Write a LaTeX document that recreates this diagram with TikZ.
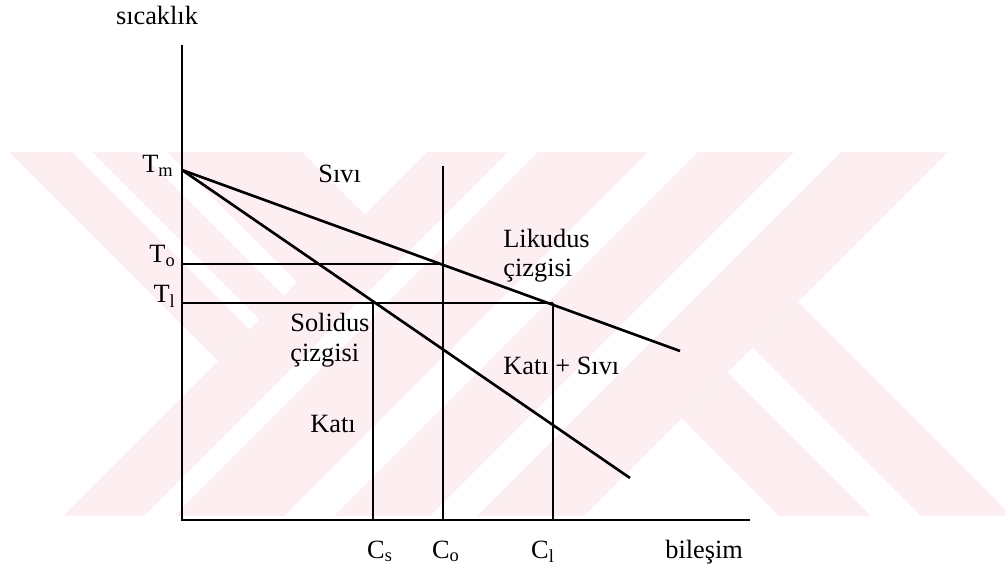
\documentclass[tikz,border=0pt]{standalone}
\usepackage{fontspec}
\setmainfont{Liberation Serif}
\usepackage{xcolor}
\definecolor{filigran}{RGB}{253,238,241}

\begin{document}
\begin{tikzpicture}[x=0.02cm, y=-0.02cm,
    eksen/.style={black, line width=0.85pt},
    egri/.style={black, line width=1.5pt},
    yatay/.style={black, line width=0.8pt},
    etiket/.style={font=\fontsize{15}{18}\selectfont, inner sep=0pt, anchor=base west},
    bant/.style={fill=filigran, draw=none}
  ]
  \useasboundingbox (0,0) rectangle (1005,564);

  % filigran
  \begin{scope}
    \clip (0,153) rectangle (1005,515);
    \fill[bant] (-500,-357) -- (218,361) -- (249.5,329.5) -- (-500,-420) -- cycle;
    \fill[bant] (-500,-440) -- (259.5,319.5) -- (283.5,295.5) -- (-500,-488) -- cycle;
    \fill[bant] (-500,-515) -- (297,282) -- (364.5,214.5) -- (-500,-650) -- cycle;
    \foreach \a/\b in {579/660, 690/800, 850/946, 993/1100}
      \fill[bant] (\a-100,100) -- (\b-100,100) -- (\b-600,600) -- (\a-600,600) -- cycle;
    \fill[bant] (727.5,372.5) -- (1055,700) -- (963,700) -- (681.5,418.5) -- cycle;
    \fill[bant] (798,302) -- (1196,700) -- (1105,700) -- (752.5,347.5) -- cycle;
  \end{scope}

  \coordinate (O)      at (182,520);
  \coordinate (ytop)   at (182,45);
  \coordinate (xend)   at (750,520);
  \coordinate (Tm)     at (182,170);
  \coordinate (To)     at (182,264);
  \coordinate (Tl)     at (182,303);
  \coordinate (liqend) at (680,351);
  \coordinate (solend) at (630,478);
  \coordinate (Cotop)  at (443,166);
  \coordinate (Cs)     at (373,520);
  \coordinate (Co)     at (443,520);
  \coordinate (Cl)     at (553,520);
  \coordinate (liqo)   at (443,264);
  \coordinate (sols)   at (373,303);
  \coordinate (liql)   at (553,303);

  \draw[eksen] (ytop) -- (O) -- (xend);
  \draw[egri] (Tm) -- (liqend);
  \draw[egri] (Tm) -- (solend);
  \draw[yatay] (To) -- (liqo);
  \draw[yatay] (Tl) -- (liql);
  \draw[eksen] (Cotop) -- (Co);
  \draw[eksen] (sols) -- (Cs);
  \draw[eksen] (liql) -- (Cl);

  \node[etiket, anchor=base] (sicaklik) at (157,25) {sıcaklık};
  \node[etiket, anchor=base east] (lTm) at (174,173) {T\textsubscript{m}};
  \node[etiket, anchor=base east] (lTo) at (176,263) {T\textsubscript{o}};
  \node[etiket, anchor=base east] (lTl) at (176,303) {T\textsubscript{l}};
  \node[etiket] (sivi) at (318,183) {Sıvı};
  \node[etiket] (lik1) at (503,248) {Likudus};
  \node[etiket] (lik2) at (503,277) {çizgisi};
  \node[etiket] (sol1) at (290,332) {Solidus};
  \node[etiket] (sol2) at (290,362) {çizgisi};
  \node[etiket] (katisivi) at (503,375) {Katı + Sıvı};
  \node[etiket] (kati) at (310,433) {Katı};
  \node[etiket, anchor=base] (lCs) at (380,558) {C\textsubscript{s}};
  \node[etiket, anchor=base] (lCo) at (446,558) {C\textsubscript{o}};
  \node[etiket, anchor=base] (lCl) at (543,558) {C\textsubscript{l}};
  \node[etiket] (bilesim) at (665,558) {bileşim};

\end{tikzpicture}
\end{document}
